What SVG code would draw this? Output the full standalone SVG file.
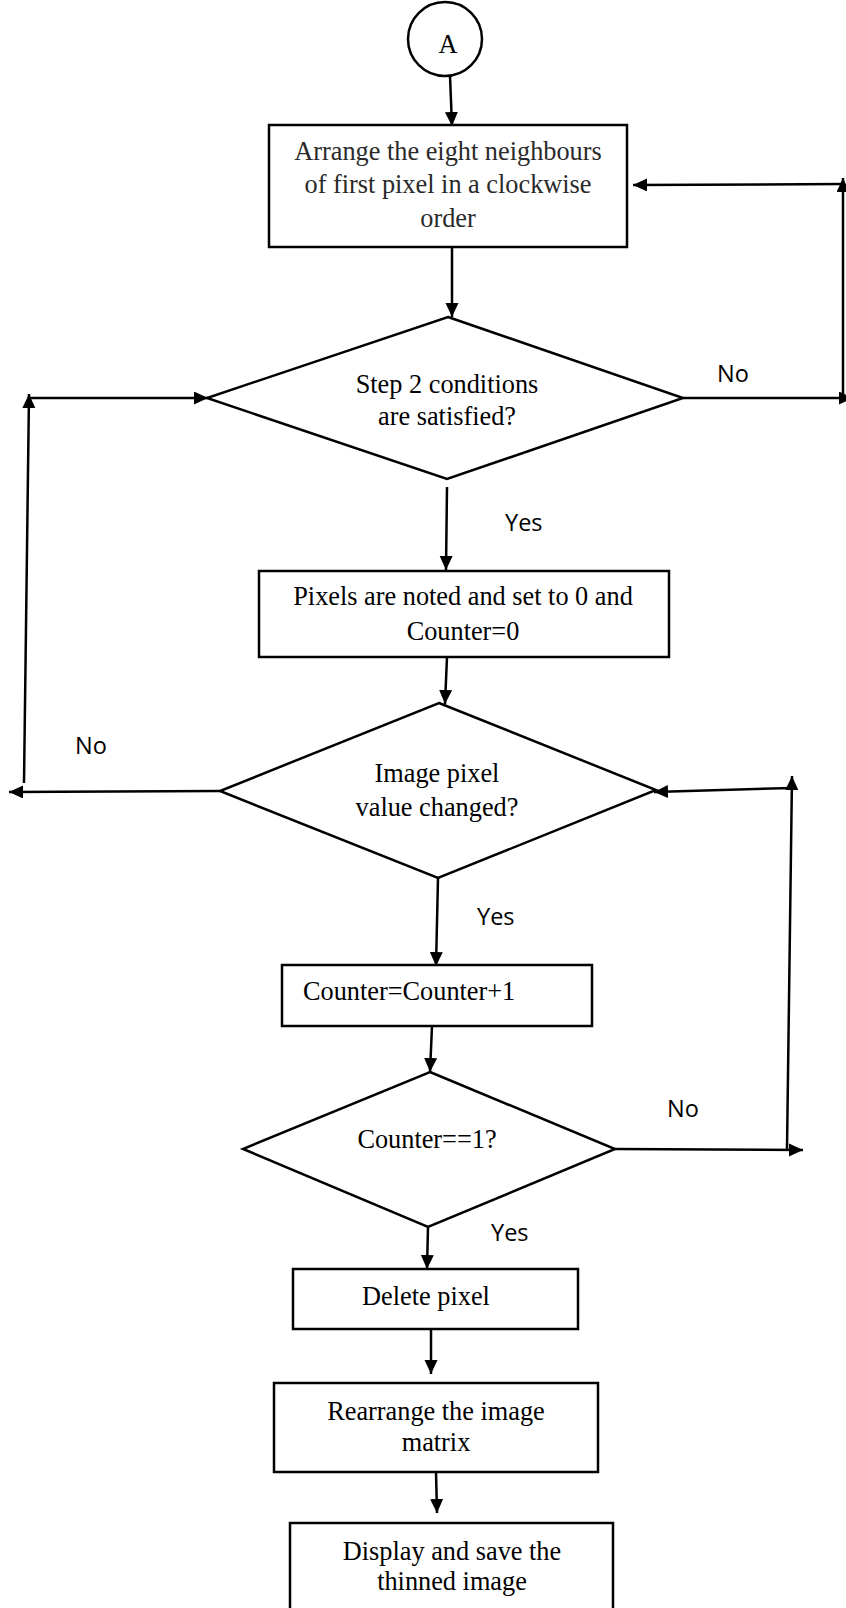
<svg xmlns="http://www.w3.org/2000/svg" width="846" height="1608" viewBox="0 0 846 1608">
  <defs>
    <marker id="arrow" markerUnits="userSpaceOnUse" markerWidth="15" markerHeight="14" refX="14" refY="6.5" orient="auto">
      <path d="M0,0 L14,6.5 L0,13 Z" fill="#000"/>
    </marker>
    <style>
      .shape { fill: #fff; stroke: #000; stroke-width: 2.5; }
      .link { fill: none; stroke: #000; stroke-width: 2.5; marker-end: url(#arrow); }
      .t { font-family: "Liberation Serif", "Times New Roman", serif; font-size: 26.3px; fill: #000; text-anchor: middle; }
      .grey { fill: #2a2a2a; }
      .lbl { font-family: "Open Sans", "Liberation Sans", sans-serif; font-size: 23.5px; fill: #000; }
    </style>
  </defs>
  <rect width="846" height="1608" fill="#fff"/>

  <!-- connectors -->
  <g id="connectors">
    <path class="link" d="M450,76 L452,126"/>
    <path class="link" d="M452,247 L452,317"/>
    <!-- No branch of first decision: back to the arrange step -->
    <path class="link" d="M683,398 L853,398"/>
    <path class="link" d="M843,398 L843,178"/>
    <path class="link" d="M843,184 L633,185"/>
    <!-- Yes branch of first decision -->
    <path class="link" d="M447,487 L446,570"/>
    <path class="link" d="M447,657 L445,704"/>
    <!-- No branch of second decision: back to the first decision -->
    <path class="link" d="M220,791 L9,792"/>
    <path class="link" d="M24,783 L29,394"/>
    <path class="link" d="M29,398 L208,398"/>
    <!-- Yes branch of second decision -->
    <path class="link" d="M438,878 L436,966"/>
    <path class="link" d="M432,1026 L430,1072"/>
    <!-- No branch of counter test: back to the second decision -->
    <path class="link" d="M615,1149 L803,1150"/>
    <path class="link" d="M787,1149 L792,776"/>
    <path class="link" d="M792,788 L654,792"/>
    <!-- Yes branch of counter test -->
    <path class="link" d="M428,1227 L427,1269"/>
    <path class="link" d="M431,1329 L431,1374"/>
    <path class="link" d="M436,1472 L437,1513"/>
  </g>

  <!-- connector labels -->
  <g id="labels">
    <text class="lbl" x="717" y="382">No</text>
    <text class="lbl" x="505" y="531">Yes</text>
    <text class="lbl" x="75" y="754">No</text>
    <text class="lbl" x="477" y="925">Yes</text>
    <text class="lbl" x="667" y="1117">No</text>
    <text class="lbl" x="491" y="1241">Yes</text>
  </g>

  <g id="start">
    <ellipse class="shape" cx="445" cy="39" rx="37" ry="37"/>
    <text class="t" x="448" y="53">A</text>
  </g>

  <g id="arrange">
    <rect class="shape" x="269" y="125" width="358" height="122"/>
    <text class="t grey" x="448" y="160">Arrange the eight neighbours</text>
    <text class="t grey" x="448" y="193">of first pixel in a clockwise</text>
    <text class="t grey" x="448" y="227">order</text>
  </g>

  <g id="step2-check">
    <polygon class="shape" points="448,317 683,398 447,479 207,398"/>
    <text class="t" x="447" y="393">Step 2 conditions</text>
    <text class="t" x="447" y="425">are satisfied?</text>
  </g>

  <g id="note-pixels">
    <rect class="shape" x="259" y="571" width="410" height="86"/>
    <text class="t" x="463" y="605">Pixels are noted and set to 0 and</text>
    <text class="t" x="463" y="640">Counter=0</text>
  </g>

  <g id="value-changed">
    <polygon class="shape" points="439,703 656,790 438,878 220,791"/>
    <text class="t" x="437" y="782">Image pixel</text>
    <text class="t" x="437" y="816">value changed?</text>
  </g>

  <g id="increment">
    <rect class="shape" x="282" y="965" width="310" height="61"/>
    <text class="t" x="303" y="1000" style="text-anchor:start">Counter=Counter+1</text>
  </g>

  <g id="counter-check">
    <polygon class="shape" points="430,1072 615,1149 428,1227 243,1149"/>
    <text class="t" x="427" y="1148">Counter==1?</text>
  </g>

  <g id="delete">
    <rect class="shape" x="293" y="1269" width="285" height="60"/>
    <text class="t" x="426" y="1305">Delete pixel</text>
  </g>

  <g id="rearrange">
    <rect class="shape" x="274" y="1383" width="324" height="89"/>
    <text class="t" x="436" y="1420">Rearrange the image</text>
    <text class="t" x="436" y="1451">matrix</text>
  </g>

  <g id="display">
    <rect class="shape" x="290" y="1523" width="323" height="100"/>
    <text class="t" x="452" y="1560">Display and save the</text>
    <text class="t" x="452" y="1590">thinned image</text>
  </g>
</svg>
